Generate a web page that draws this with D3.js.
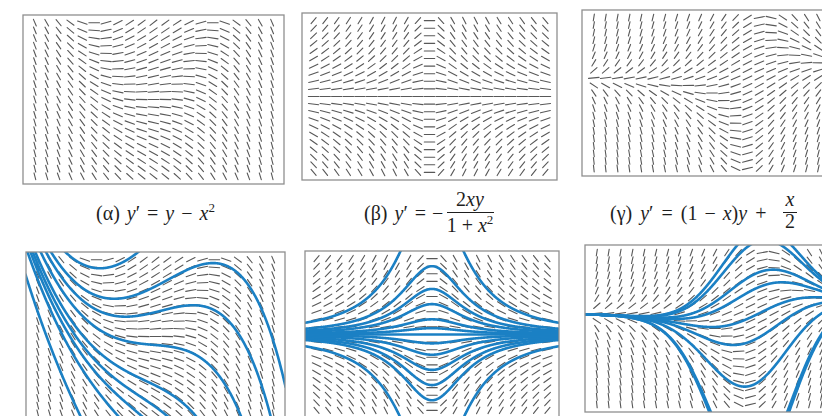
<!DOCTYPE html>
<html>
<head>
<meta charset="utf-8">
<script src="https://cdn.jsdelivr.net/npm/d3@7/dist/d3.min.js"></script>
<style>
  html, body { margin: 0; padding: 0; background: #ffffff; }
  svg { display: block; }
  text { font-family: "Liberation Serif", "Times New Roman", serif; fill: #1e1e1e; }
</style>
</head>
<body>
<svg id="chart" width="822" height="416"></svg>
<script>
// ---- Sampling ranges of the three direction fields (21 x 21 sample points each)
const alphaXRange = [-1.2, 1.2];
const alphaYRange = [-0.36, 0.36];
const betaXRange  = [-3, 3];
const betaYRange  = [-3, 3];
const gammaXRange = [-3, 3];
const gammaYRange = [-2, 2];
const samplesPerAxis = 21;

// ---- Solution curves: one point (x, y) that each drawn curve passes through
const alphaCurvePoints = [
  [0, 0.47], [0, 0.235], [0, 0.114], [0, -0.04], [0, -0.23],
  [0, -0.33], [0, -0.43], [0, -0.57], [0, -1.07]
];
const betaCurvePoints = [
  [0, 5.5], [0, 2.7], [0, 1.8], [0, 1.2], [0, 0.6], [0, 0.25], [0, 0],
  [0, -0.35], [0, -0.8], [0, -1.4], [0, -2.0], [0, -2.6], [0, -5.5]
];
const gammaCurvePoints = [
  [0.89, 2.2], [1.14, 1.49], [1.14, 1.1], [1.14, 0.41], [1.14, -0.22],
  [0.8, -1.53], [-0.13, -2.14], [1.9, -2.14], [1.98, 2.15]
];

// ---- Caption labels
const captionAlpha = "(α)";
const captionBeta  = "(β)";
const captionGamma = "(γ)";

// Right-hand sides of the differential equations
const slopeAlpha = (x, y) => y - x * x;
const slopeBeta  = (x, y) => -2 * x * y / (1 + x * x);
const slopeGamma = (x, y) => (1 - x) * y + x / 2;

const panels = [
  { id: "a", f: slopeAlpha, xr: alphaXRange, yr: alphaYRange, curves: alphaCurvePoints,
    frames: [[23, 15, 261, 169], [26, 252, 259, 169]] },
  { id: "b", f: slopeBeta, xr: betaXRange, yr: betaYRange, curves: betaCurvePoints,
    frames: [[302, 13, 255, 167], [305, 251, 254, 167]] },
  { id: "c", f: slopeGamma, xr: gammaXRange, yr: gammaYRange, curves: gammaCurvePoints,
    frames: [[582, 10, 260, 166], [585, 245, 260, 167]] }
];

const svg = d3.select("#chart");
const defs = svg.append("defs");

// Integrate y' = f(x, y) with RK4 in both directions from (x0, y0)
function trace(f, x0, y0, xLo, xHi) {
  const n = 1000, h = (xHi - xLo) / n;
  const run = dir => {
    const pts = [];
    let x = x0, y = y0;
    while (x >= xLo - h && x <= xHi + h && Math.abs(y) < 80) {
      pts.push([x, y]);
      const s = dir * h;
      const k1 = f(x, y);
      const k2 = f(x + s / 2, y + s / 2 * k1);
      const k3 = f(x + s / 2, y + s / 2 * k2);
      const k4 = f(x + s, y + s * k3);
      y += s / 6 * (k1 + 2 * k2 + 2 * k3 + k4);
      x += s;
    }
    pts.push([x, y]);
    return pts;
  };
  return run(-1).reverse().concat(run(1).slice(1));
}

panels.forEach(p => {
  const stepX = (p.xr[1] - p.xr[0]) / (samplesPerAxis - 1);
  const stepY = (p.yr[1] - p.yr[0]) / (samplesPerAxis - 1);
  const xs = d3.range(samplesPerAxis).map(i => p.xr[0] + i * stepX);
  const ys = d3.range(samplesPerAxis).map(j => p.yr[0] + j * stepY);
  const grid = d3.cross(xs, ys);

  p.frames.forEach((fr, k) => {
    const [left, top, w, h] = fr;
    const xScale = d3.scaleLinear().domain([p.xr[0] - stepX, p.xr[1] + stepX]).range([left, left + w]);
    const yScale = d3.scaleLinear().domain([p.yr[0] - stepY, p.yr[1] + stepY]).range([top + h, top]);
    const cw = xScale(stepX) - xScale(0);
    const rh = yScale(0) - yScale(stepY);
    const g = svg.append("g").attr("class", "panel-" + p.id + k);

    const clipId = "clip-" + p.id + k;
    defs.append("clipPath").attr("id", clipId)
      .append("rect").attr("x", left).attr("y", top).attr("width", w).attr("height", h);

    // direction field: one short segment per sample point
    const segLen = 0.9;
    g.append("g").selectAll("line").data(grid).join("line")
      .each(function (d) {
        const m = p.f(d[0], d[1]);
        const v = m * stepX / stepY;
        const nrm = Math.sqrt(1 + v * v);
        const du = segLen / 2 / nrm, dv = segLen / 2 * v / nrm;
        const cx = xScale(d[0]), cy = yScale(d[1]);
        d3.select(this)
          .attr("x1", cx - du * cw).attr("y1", cy + dv * rh)
          .attr("x2", cx + du * cw).attr("y2", cy - dv * rh);
      })
      .attr("stroke", "#585858").attr("stroke-width", 1.1).attr("stroke-linecap", "round");

    // solution curves in the lower row
    if (k === 1) {
      const line = d3.line().x(d => xScale(d[0])).y(d => yScale(Math.max(-60, Math.min(60, d[1]))));
      g.append("g").attr("clip-path", "url(#" + clipId + ")")
        .selectAll("path").data(p.curves).join("path")
        .attr("d", pt => line(trace(p.f, pt[0], pt[1], p.xr[0] - stepX, p.xr[1] + stepX)))
        .attr("fill", "none").attr("stroke", "#1b80c4").attr("stroke-width", 2.6)
        .attr("stroke-linecap", "round");
    }

    g.append("rect").attr("x", left).attr("y", top).attr("width", w).attr("height", h)
      .attr("fill", "none").attr("stroke", "#8f8f8f").attr("stroke-width", 1.3);
  });
});

// ---- Captions with the equations
const cap = svg.append("g").attr("font-size", 20);
const sup = (t, s) => t.append("tspan").attr("font-size", 13).attr("dy", -8).text(s);

// (α) y' = y − x²
const ta = cap.append("text").attr("x", 96).attr("y", 220);
ta.append("tspan").text(captionAlpha);
ta.append("tspan").attr("dx", 7).attr("font-style", "italic").text("y");
ta.append("tspan").text("′");
ta.append("tspan").attr("dx", 7).text("=");
ta.append("tspan").attr("dx", 7).attr("font-style", "italic").text("y");
ta.append("tspan").attr("dx", 7).text("−");
ta.append("tspan").attr("dx", 7).attr("font-style", "italic").text("x");
sup(ta, "2");

// (β) y' = − 2xy / (1 + x²)
const tb = cap.append("text").attr("x", 364).attr("y", 220);
tb.append("tspan").text(captionBeta);
tb.append("tspan").attr("dx", 7).attr("font-style", "italic").text("y");
tb.append("tspan").text("′");
tb.append("tspan").attr("dx", 7).text("=");
tb.append("tspan").attr("dx", 6).text("−");
const nb = cap.append("text").attr("x", 470).attr("y", 206).attr("text-anchor", "middle");
nb.append("tspan").text("2");
nb.append("tspan").attr("font-style", "italic").text("xy");
cap.append("line").attr("x1", 447).attr("x2", 494).attr("y1", 212.5).attr("y2", 212.5)
  .attr("stroke", "#1e1e1e").attr("stroke-width", 1);
const db = cap.append("text").attr("x", 470).attr("y", 232).attr("text-anchor", "middle");
db.append("tspan").text("1");
db.append("tspan").attr("dx", 5).text("+");
db.append("tspan").attr("dx", 5).attr("font-style", "italic").text("x");
sup(db, "2");

// (γ) y' = (1 − x)y + x/2
const tc = cap.append("text").attr("x", 610).attr("y", 220);
tc.append("tspan").text(captionGamma);
tc.append("tspan").attr("dx", 8).attr("font-style", "italic").text("y");
tc.append("tspan").text("′");
tc.append("tspan").attr("dx", 8).text("=");
tc.append("tspan").attr("dx", 8).text("(1");
tc.append("tspan").attr("dx", 7).text("−");
tc.append("tspan").attr("dx", 7).attr("font-style", "italic").text("x");
tc.append("tspan").text(")");
tc.append("tspan").attr("font-style", "italic").text("y");
tc.append("tspan").attr("dx", 8).text("+");
cap.append("text").attr("x", 790).attr("y", 206).attr("text-anchor", "middle")
  .attr("font-style", "italic").text("x");
cap.append("line").attr("x1", 783).attr("x2", 797).attr("y1", 212.5).attr("y2", 212.5)
  .attr("stroke", "#1e1e1e").attr("stroke-width", 1);
cap.append("text").attr("x", 790).attr("y", 228).attr("text-anchor", "middle").text("2");
</script>
</body>
</html>
